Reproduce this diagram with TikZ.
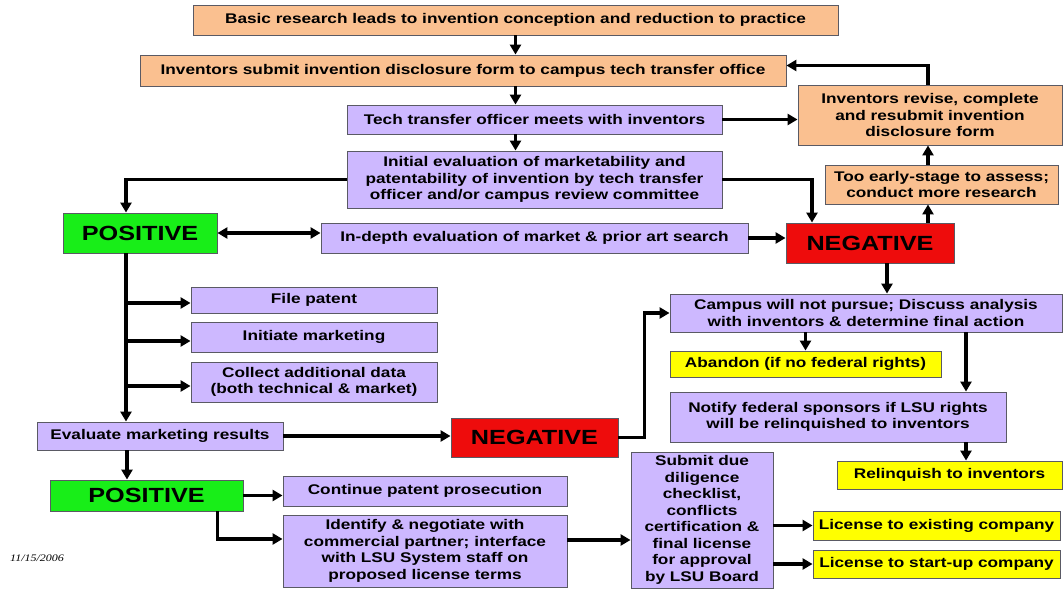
\documentclass[tikz,border=0pt]{standalone}
\usepackage{fontspec}
\setmainfont{Liberation Sans}[FakeStretch=1.23]
\newfontfamily\datefont{Liberation Serif}[FakeStretch=1.2]
\usetikzlibrary{arrows.meta,calc}

\definecolor{peach}{RGB}{250,192,144}
\definecolor{lilac}{RGB}{205,184,255}
\definecolor{lime}{RGB}{24,238,24}
\definecolor{alarm}{RGB}{238,12,12}
\definecolor{sun}{RGB}{255,255,0}
\definecolor{rim}{RGB}{90,90,100}

\tikzset{
  box/.style={draw=rim, line width=0.9pt, inner sep=1pt, align=center,
              font=\fontsize{14}{16.5}\selectfont\bfseries},
  orange/.style={box, fill=peach},
  purple/.style={box, fill=lilac},
  yellow/.style={box, fill=sun},
  verdict/.style={box, font=\fontsize{20.5}{24}\selectfont\bfseries},
  good/.style={verdict, fill=lime},
  bad/.style={verdict, fill=alarm},
  arr/.style={line width=3.3pt, -{Triangle[length=10pt,width=11pt]}},
  dbl/.style={line width=3.3pt, {Triangle[length=10pt,width=11pt]}-{Triangle[length=10pt,width=11pt]}},
}

% box from its corners (x1,y1)-(x2,y2), y measured downwards
\newcommand\bx[7]{%
  \node[#2, minimum width={#5-#3}, minimum height={#6-#4}]
    (#1) at ({(#3+#5)/2},{(#4+#6)/2}) {#7};}

\begin{document}
\begin{tikzpicture}[x=1pt,y=-1pt]
\useasboundingbox (0,0) rectangle (1064,589);

\bx{b1}{orange}{193}{5}{838}{35}{Basic research leads to invention conception and reduction to practice}
\bx{b2}{orange}{140}{55}{786}{86}{Inventors submit invention disclosure form to campus tech transfer office}
\bx{b3}{purple}{347}{105}{722}{134}{Tech transfer officer meets with inventors}
\bx{b4}{purple}{347}{151}{722}{208}{Initial evaluation of marketability and\\patentability of invention by tech transfer\\officer and/or campus review committee}
\bx{rev}{orange}{798}{85}{1062}{145}{Inventors revise, complete\\and resubmit invention\\disclosure form}
\bx{early}{orange}{825}{165}{1058}{204}{Too early-stage to assess;\\conduct more research}
\bx{neg1}{bad}{786}{223}{954}{263}{NEGATIVE}
\bx{pos1}{good}{63}{213}{217}{253}{POSITIVE}
\bx{indepth}{purple}{321}{223}{748}{253}{In-depth evaluation of market \& prior art search}
\bx{file}{purple}{191}{287}{437}{313}{File patent}
\bx{init}{purple}{191}{322}{437}{352}{Initiate marketing}
\bx{collect}{purple}{191}{362}{437}{402}{Collect additional data\\(both technical \& market)}
\bx{eval}{purple}{37}{422}{283}{450}{Evaluate marketing results}
\bx{neg2}{bad}{451}{418}{618}{457}{NEGATIVE}
\bx{campus}{purple}{670}{294}{1062}{332}{Campus will not pursue; Discuss analysis\\with inventors \& determine final action}
\bx{abandon}{yellow}{670}{351}{941}{377}{Abandon (if no federal rights)}
\bx{notify}{purple}{670}{392}{1006}{442}{Notify federal sponsors if LSU rights\\will be relinquished to inventors}
\bx{relinq}{yellow}{837}{461}{1062}{489}{Relinquish to inventors}
\bx{pos2}{good}{50}{480}{243}{511}{POSITIVE}
\bx{cont}{purple}{283}{476}{567}{506}{Continue patent prosecution}
\bx{ident}{purple}{283}{515}{567}{587}{Identify \& negotiate with\\commercial partner; interface\\with LSU System staff on\\proposed license terms}
\bx{submit}{purple}{631}{452}{773}{588}{Submit due\\diligence\\checklist,\\conflicts\\certification \&\\final license\\for approval\\by LSU Board}
\bx{lexist}{yellow}{813}{511}{1060}{540}{License to existing company}
\bx{lstart}{yellow}{813}{550}{1060}{578}{License to start-up company}

\node[font=\datefont\itshape\fontsize{10}{11}\selectfont, anchor=west, inner sep=0pt] (date) at (10,558) {11/15/2006};

% main spine at the top
\draw[arr] (b1.south) -- (b1.south |- b2.north);
\draw[arr] (b1.south |- b2.south) -- (b1.south |- b3.north);
\draw[arr] (b1.south |- b3.south) -- (b1.south |- b4.north);

% initial evaluation outcomes
\coordinate (trunk) at ([xshift=-14pt]pos1.south);
\draw[arr] (b4.west) -| ([xshift=-14pt]pos1.north);
\draw[arr] (b4.east) -| ([xshift=-58pt]neg1.north);
\draw[dbl] (pos1.east) -- (pos1.east -| indepth.west);
\draw[arr] (indepth.east) -- (indepth.east -| neg1.west);

% loop back through the inventors
\coordinate (loop) at ([xshift=58pt]neg1.north);
\draw[arr] (loop) -- (loop |- early.south);
\draw[arr] (loop |- early.north) -- (loop |- rev.south);
\draw[arr] (loop |- rev.north) |- ([yshift=5pt]b2.east);
\draw[arr] (b3.east) -- (b3.east -| rev.west);

% positive branch
\draw[arr] (trunk) -- (trunk |- eval.north);
\draw[arr] ([yshift=-3pt]trunk |- file.west) -- ([yshift=-3pt]file.west);
\draw[arr] ([yshift=-4pt]trunk |- init.west) -- ([yshift=-4pt]init.west);
\draw[arr] ([yshift=-4pt]trunk |- collect.west) -- ([yshift=-4pt]collect.west);

% marketing results
\draw[arr] (eval.east) -- (eval.east -| neg2.west);
\draw[arr] (neg2.east) -- ++(26,0) |- (campus.west);
\draw[arr] ([xshift=17pt]neg1.south) -- ([xshift=17pt]neg1.south |- campus.north);
\draw[arr] (abandon.north |- campus.south) -- (abandon.north);
\coordinate (right) at ([xshift=100pt]campus.south);
\draw[arr] (right) -- (right |- notify.north);
\draw[arr] (right |- notify.south) -- (right |- relinq.north);

% licensing
\draw[arr] ([xshift=-33pt]eval.south) -- ([xshift=-33pt]eval.south |- pos2.north);
\draw[arr] (pos2.east) -- (pos2.east -| cont.west);
\draw[arr] ([xshift=71pt]pos2.south) |- ([yshift=12pt]ident.west);
\draw[arr] ([yshift=11pt]ident.east) -- ([yshift=11pt]ident.east -| submit.west);
\draw[arr] (lexist.west -| submit.east) -- (lexist.west);
\draw[arr] (lstart.west -| submit.east) -- (lstart.west);
\end{tikzpicture}
\end{document}
